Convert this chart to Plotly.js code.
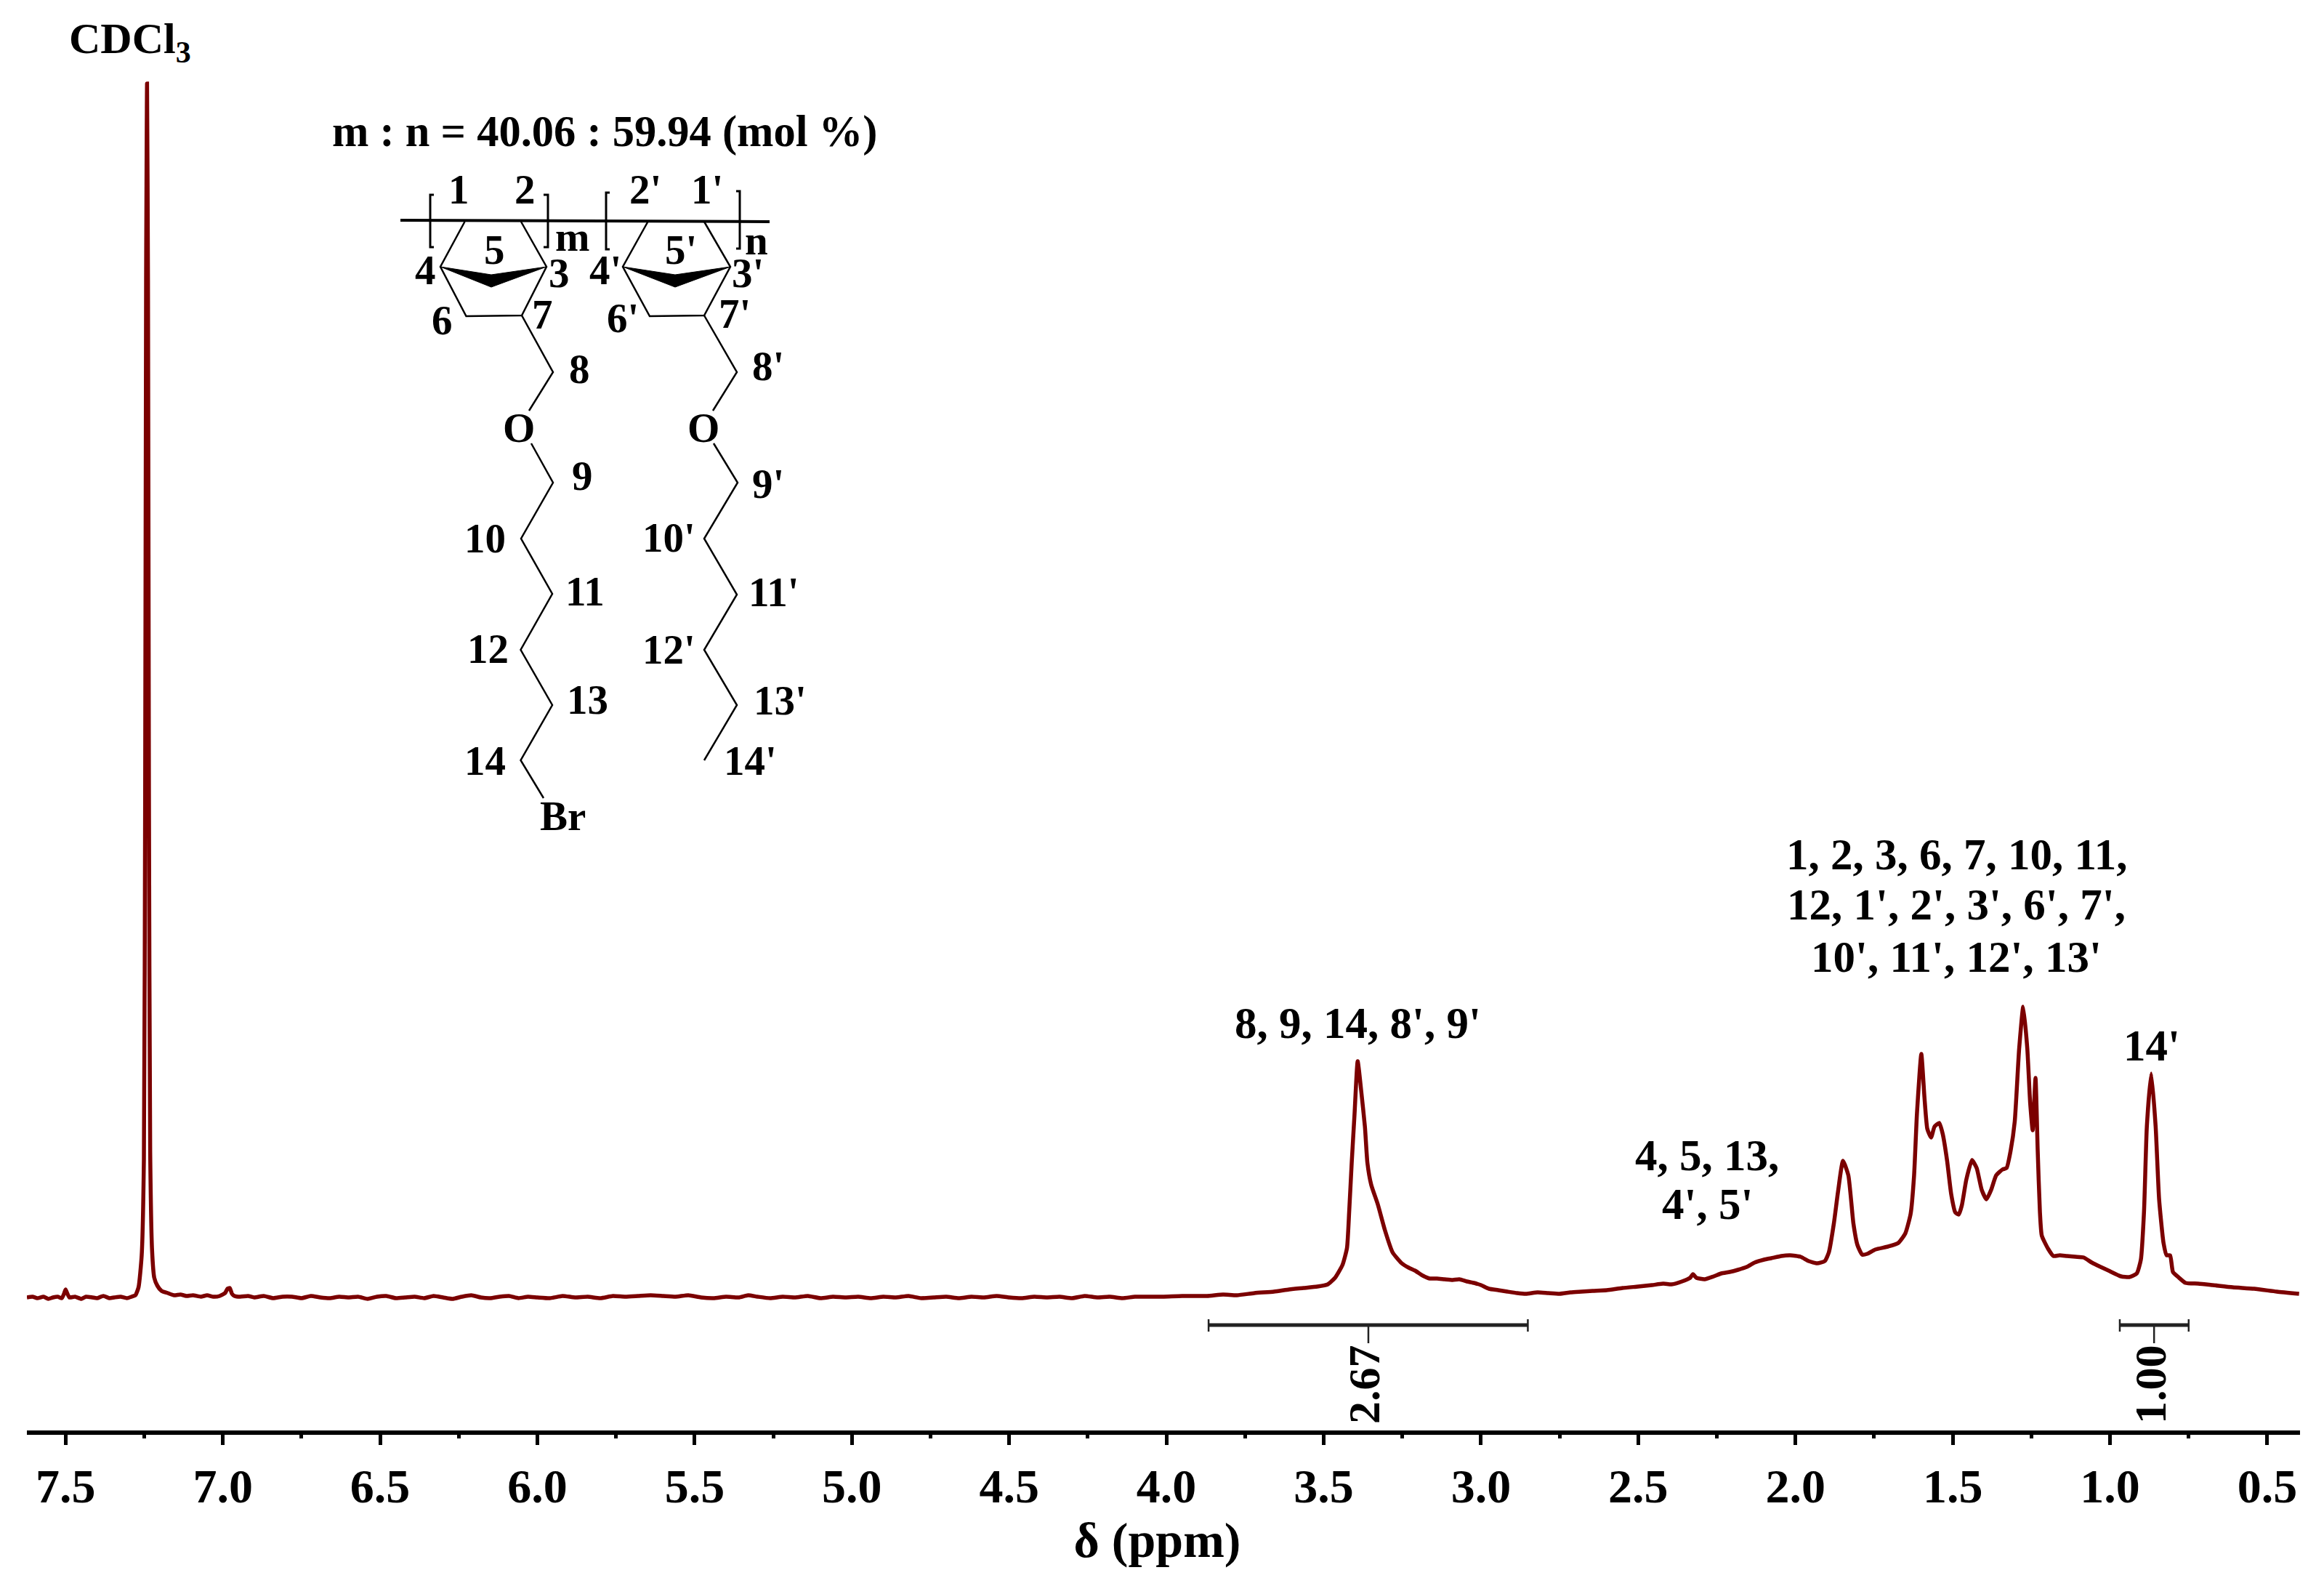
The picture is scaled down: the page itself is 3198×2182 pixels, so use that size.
<!DOCTYPE html>
<html>
<head>
<meta charset="utf-8">
<script src="https://cdn.plot.ly/plotly-3.0.1.min.js"></script>
<style>html,body{margin:0;padding:0;background:#fff}</style>
</head>
<body>
<div id="chart" style="width:3198px;height:2182px"></div>
<script>
// Spectrum: chemical shift (ppm) and signal height (a.u.)
const ppmLeft = [7.623,7.605,7.59,7.57,7.555,7.54,7.525,7.512,7.505,7.5,7.495,7.488,7.47,7.45,7.435,7.415,7.4,7.38,7.36,7.345,7.325,7.305,7.29,7.278,7.268,7.258,7.251,7.247,7.244,7.241,7.238,7.235,7.231,7.225,7.218,7.208,7.195,7.175,7.155,7.135,7.115,7.095,7.07,7.05,7.03,7.01,6.993,6.985,6.978,6.971,6.963,6.945,6.92,6.9,6.87,6.84,6.81,6.78,6.75,6.72,6.69,6.66,6.63,6.6,6.57,6.54,6.51,6.48,6.45,6.42,6.39,6.36,6.33,6.3,6.27,6.24,6.21,6.18,6.15,6.12,6.09,6.06,6.03,6.0,5.96,5.92,5.88,5.84,5.8,5.76,5.72,5.68,5.64,5.6,5.56,5.52,5.48,5.44,5.4,5.36,5.33,5.3,5.26,5.22,5.18,5.14,5.1,5.06,5.02,4.98,4.94,4.9,4.86,4.82,4.78,4.74,4.7,4.66,4.62,4.58,4.54,4.5,4.46,4.42,4.38,4.34,4.3,4.26,4.22,4.18,4.14,4.1,4.06];
const intLeft = [0,1,-1,1,-2,0,1,-1,5,11,6,0,1,-2,1,0,-1,2,-1,0,1,-1,1,3,14,58,190,690,1400,1670,1400,700,200,65,27,16,9,6,3,4,2,3,1,3,1,2,6,12,13,5,2,1,2,0,2,-1,1,1,-1,2,0,-1,1,0,1,-2,1,2,-1,0,1,-1,2,0,-2,1,3,0,-1,1,2,-1,1,0,-1,2,0,1,-1,2,1,2,3,2,1,3,0,-1,1,0,3,1,-1,1,0,2,-1,1,0,1,-1,1,0,2,-1,0,1,-1,1,0,2,0,-1,1,0,1,-1,2,0,1,-1,1,1];
const ppmMiddle = [4.012,3.95,3.871,3.82,3.776,3.72,3.658,3.61,3.564,3.52,3.487,3.464,3.44,3.426,3.419,3.411,3.402,3.392,3.381,3.369,3.361,3.349,3.328,3.305,3.281,3.252,3.23,3.21,3.185,3.163,3.14,3.116,3.09,3.069,3.045,3.022,3.0,2.975,2.945,2.916,2.885,2.857,2.82,2.786,2.75,2.715,2.68,2.645,2.6,2.55,2.5,2.456,2.42];
const intMiddle = [1,2,2,4,3,6,8,11,13,15,18,27,45,68,118,185,252,325,285,235,185,155,128,92,62,47,41,37,30,26,26,25,24,25,22,20,17,12,10,8,6,5,7,6,5,7,8,9,10,13,15,17,19];
const ppmRight = [2.394,2.361,2.335,2.326,2.315,2.289,2.26,2.236,2.21,2.183,2.155,2.13,2.1,2.077,2.045,2.017,1.984,1.958,1.931,1.907,1.894,1.878,1.865,1.849,1.832,1.816,1.803,1.788,1.772,1.746,1.706,1.673,1.651,1.634,1.623,1.614,1.6,1.59,1.581,1.569,1.558,1.543,1.532,1.518,1.505,1.492,1.481,1.471,1.457,1.439,1.424,1.408,1.393,1.378,1.362,1.342,1.329,1.316,1.303,1.289,1.276,1.263,1.254,1.246,1.237,1.23,1.223,1.217,1.197,1.18,1.16,1.137,1.11,1.084,1.058,1.03,1.005,0.965,0.939,0.915,0.902,0.892,0.883,0.869,0.855,0.844,0.83,0.82,0.809,0.8,0.783,0.76,0.72,0.674,0.61,0.542,0.47,0.399];
const intRight = [18,22,27,32,27,25,29,33,35,38,42,48,52,54,57,58,56,50,47,50,62,102,145,188,168,102,72,59,60,66,70,75,88,115,168,252,335,275,232,220,235,240,225,188,142,117,114,127,162,189,178,148,135,148,168,176,178,202,242,342,400,342,268,230,302,202,118,85,67,57,58,57,56,55,48,42,37,29,28,33,52,118,235,308,235,135,75,58,58,35,28,20,19,17,14,12,8,5];

const tickValues = [7.5,7,6.5,6,5.5,5,4.5,4,3.5,3,2.5,2,1.5,1,0.5];
const tickLabels = ['7.5','7.0','6.5','6.0','5.5','5.0','4.5','4.0','3.5','3.0','2.5','2.0','1.5','1.0','0.5'];
const minorTicks = [7.25,6.75,6.25,5.75,5.25,4.75,4.25,3.75,3.25,2.75,2.25,1.75,1.25,0.75];

// Integrals: [from ppm, to ppm, stem ppm, value]
const integralFrom = [3.866,0.969];
const integralTo = [2.851,0.75];
const integralStem = [3.358,0.86];
const integralValues = ['2.67','1.00'];

const peakLabels = ['8, 9, 14, 8\', 9\'','14\'','1, 2, 3, 6, 7, 10, 11,','12, 1\', 2\', 3\', 6\', 7\',','10\', 11\', 12\', 13\'','4, 5, 13,','4\', 5\''];
const peakLabelX = [1868,2961,2692,2692,2692,2349,2349];
const peakLabelY = [1407,1438,1175,1244,1316,1589,1656];

// Structure drawing labels and bonds (page pixels)
const atomLabels = ['1','2','2\'','1\'','m','n','5','5\'','4','3','4\'','3\'','6','7','6\'','7\'','8','8\'','O','O','9','9\'','10','10\'','11','11\'','12','12\'','13','13\'','14','14\'','Br'];
const atomX = [631,722,888,973,787,1041,680,937,585,769,833,1029,608,746,857,1011,797,1057,714,968,801,1057,667,920,805,1065,671,921,808,1073,667,1032,774];
const atomY = [261,261,261,261,325,330,343,343,372,375,372,375,440,433,438,432,508,503,588,588,655,665,741,740,814,815,892,893,963,964,1046,1046,1122];
const backbone = [[551,303],[1059,305]];
const brackets = [
  [[597,268],[592,268],[592,340],[597,340]],
  [[748,268],[754,268],[754,340],[748,340]],
  [[839,265],[834,265],[834,343],[839,343]],
  [[1013,263],[1018,263],[1018,342],[1013,342]]
];
const bonds = [
  [[639.5,305],[606,367],[641.5,435],[718,434],[752,367],[717,305]],
  [[718,434],[761,512],[728,565]],
  [[731,610],[761,664],[717,741],[760,817],[716.5,894],[760,970],[716.5,1046],[748,1098]],
  [[891.5,305],[857,367],[894,435],[969,434],[1005,367],[969,305]],
  [[969,434],[1014,512],[981,565]],
  [[982,610],[1015,664],[969,741],[1014,818],[969,894],[1014,970],[969,1046]]
];
const wedges = [
  [[606,367],[676,378],[752,367],[676,395]],
  [[857,367],[929,378],[1005,367],[929,395]]
];

const W = 3198, H = 2182;
const L = 37, R = 33, T = 0, B = 214;
const fx = x => (x - L) / (W - L - R);
const fy = y => 1 - (y - T) / (H - T - B);
const serif = 'Liberation Serif, Times New Roman, serif';
const textFont = (s) => ({family: serif, size: s, color: '#000', weight: 'bold'});

const pathOf = (pts, close) => 'M' + pts.map(p => fx(p[0]) + ',' + fy(p[1])).join(' L') + (close ? ' Z' : '');
const polyShape = (pts, w) => ({type:'path', xref:'paper', yref:'paper', path:pathOf(pts,false), line:{color:'#000', width:w}, fillcolor:'rgba(0,0,0,0)', layer:'above'});

const shapes = [];
shapes.push(polyShape(backbone, 4));
brackets.forEach(b => shapes.push(polyShape(b, 3)));
bonds.forEach(b => shapes.push(polyShape(b, 2.5)));
wedges.forEach(b => shapes.push({type:'path', xref:'paper', yref:'paper', path:pathOf(b,true), fillcolor:'#000', line:{color:'#000', width:1}}));

// Integral brackets (in data coordinates)
const barY = -38, capHi = -30, capLo = -47, stemEnd = -63;
integralFrom.forEach((a,i) => {
  const ln = (x0,y0,x1,y1,w) => shapes.push({type:'line', xref:'x', yref:'y', x0:x0, y0:y0, x1:x1, y1:y1, line:{color:'#222', width:w}});
  ln(a, barY, integralTo[i], barY, 5);
  ln(a, capHi, a, capLo, 2.5);
  ln(integralTo[i], capHi, integralTo[i], capLo, 2.5);
  ln(integralStem[i], barY, integralStem[i], stemEnd, 2.5);
});

const annotations = [];
const addText = (t,x,y,s,extra) => annotations.push(Object.assign({text:t, xref:'paper', yref:'paper', x:fx(x), y:fy(y), xanchor:'center', yanchor:'middle', showarrow:false, font:textFont(s)}, extra||{}));
addText('CDCl<sub>3</sub>', 179, 58, 60);
addText('m : n = 40.06 : 59.94 (mol %)', 832, 181, 60.5);
peakLabels.forEach((t,i) => addText(t, peakLabelX[i], peakLabelY[i], 61));
atomLabels.forEach((t,i) => addText(t, atomX[i], atomY[i], 57));
addText(integralValues[0], 1877, 1905, 62, {textangle:-90});
addText(integralValues[1], 2959, 1905, 62, {textangle:-90});

const trace = {
  x: ppmLeft.concat(ppmMiddle, ppmRight),
  y: intLeft.concat(intMiddle, intRight),
  type: 'scatter', mode: 'lines',
  line: {color: '#7b0000', width: 5.5, shape: 'spline', smoothing: 0.5},
  hoverinfo: 'skip'
};

const layout = {
  width: W, height: H, autosize: false, showlegend: false,
  paper_bgcolor: '#fff', plot_bgcolor: '#fff',
  margin: {l:L, r:R, t:T, b:B, pad:0},
  xaxis: {
    range: [7.623, 0.396],
    tickmode: 'array', tickvals: tickValues, ticktext: tickLabels,
    ticks: 'outside', ticklen: 14, tickwidth: 5, tickcolor: '#000',
    showline: true, linewidth: 6, linecolor: '#000', showgrid: false, zeroline: false,
    tickfont: textFont(66),
    minor: {tickmode:'array', tickvals: minorTicks, ticks:'outside', ticklen:5, tickwidth:5, tickcolor:'#000', showgrid:false},
    title: {text:'δ (ppm)&nbsp;', font:textFont(68), standoff: 0}
  },
  yaxis: {range: [-183, 1785], visible: false, fixedrange: true},
  shapes: shapes,
  annotations: annotations
};
Plotly.newPlot('chart', [trace], layout, {displayModeBar:false, staticPlot:true});
</script>
</body>
</html>
